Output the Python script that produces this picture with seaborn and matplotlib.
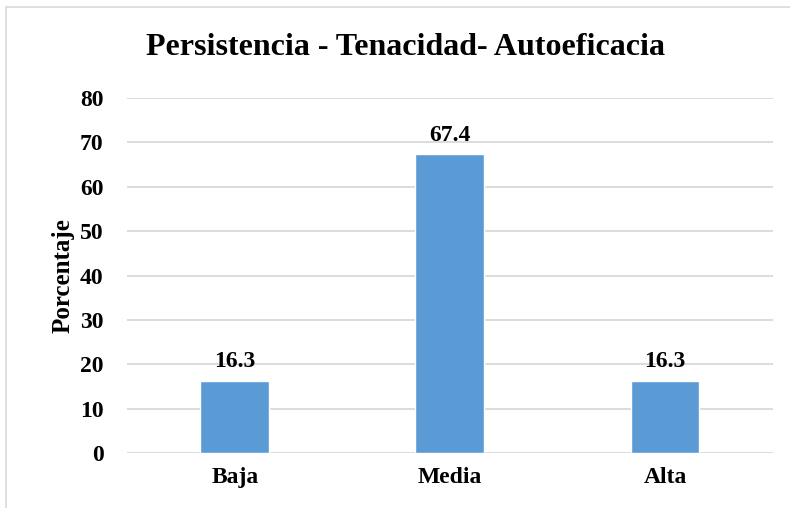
import matplotlib
matplotlib.use("Agg")
import matplotlib.pyplot as plt
import matplotlib.patches as mpatches
import pandas as pd
import seaborn as sns

categorias = ["Baja", "Media", "Alta"]
porcentajes = [16.3, 67.4, 16.3]
yticks = [0, 10, 20, 30, 40, 50, 60, 70, 80]

df = pd.DataFrame({"nivel": categorias, "porcentaje": porcentajes})

sns.set_style("white")
plt.rcParams["font.family"] = ["Liberation Serif", "DejaVu Serif"]
plt.rcParams["font.weight"] = "bold"
plt.rcParams["text.color"] = "black"
plt.rcParams["xtick.color"] = "black"
plt.rcParams["ytick.color"] = "black"
plt.rcParams["axes.labelcolor"] = "black"

fig = plt.figure(figsize=(7.9, 5.08), dpi=100)
ax = fig.add_axes([0.161, 0.108, 0.817, 0.699])

sns.barplot(data=df, x="nivel", y="porcentaje", color="#5B9BD5",
            width=0.32, saturation=1, ax=ax, zorder=3)

ax.set_ylim(0, 80)
ax.set_yticks(yticks)
ax.set_xlim(-0.5, 2.5)
ax.grid(axis="y", color="#d9d9d9", linewidth=1.3, zorder=0)
ax.set_axisbelow(True)
for s in ax.spines.values():
    s.set_visible(False)
ax.tick_params(length=0, labelsize=17)
ax.tick_params(axis="y", pad=17)
ax.tick_params(axis="x", pad=10)
for lab in ax.get_xticklabels() + ax.get_yticklabels():
    lab.set_fontweight("bold")

ax.set_xlabel("")
ax.set_ylabel("Porcentaje", fontsize=18, fontweight="bold", labelpad=4)

for i, v in enumerate(porcentajes):
    ax.annotate(f"{v}", (i, v), xytext=(0, 6), textcoords="offset points",
                ha="center", va="bottom", fontsize=17, fontweight="bold")

fig.text(0.513, 0.907, "Persistencia - Tenacidad- Autoeficacia",
         ha="center", va="center", fontsize=23, fontweight="bold")

# chart border (left and top edge visible)
fig.patches.append(mpatches.Rectangle((6 / 790, -0.1), 1.2, 1 - 7 / 508 + 0.1,
                                      transform=fig.transFigure, fill=False,
                                      edgecolor="#d9d9d9", linewidth=1.2))

fig.savefig("out.png", dpi=100)
